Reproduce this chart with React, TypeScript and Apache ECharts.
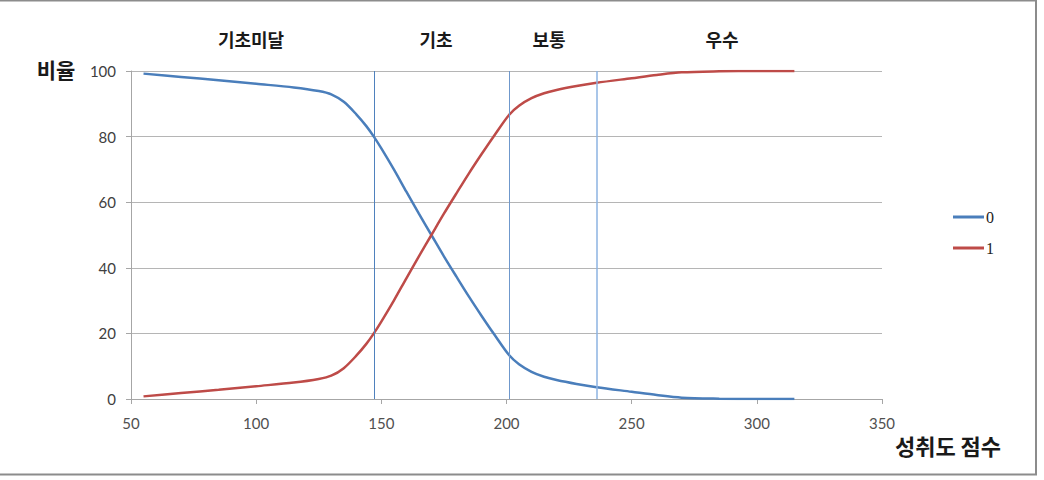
import React, { useEffect, useRef } from "react";
import * as echarts from "echarts";

const scores = [55, 70, 85, 100, 115, 125, 130, 135, 140, 144, 147, 150, 155, 160, 165, 170, 175, 180, 185, 190, 195, 201, 205, 210, 215, 220, 228, 236, 250, 260, 270, 285, 300, 315];
const series0 = [99.2, 98.2, 97.2, 96.1, 95.0, 93.9, 92.9, 90.6, 86.8, 83.2, 80.0, 76.4, 70.0, 63.2, 56.5, 50.0, 43.5, 37.3, 31.2, 25.4, 19.8, 13.4, 10.6, 8.3, 6.8, 5.8, 4.6, 3.6, 2.2, 1.2, 0.4, 0.1, 0, 0];
const series1 = [0.8, 1.8, 2.8, 3.9, 5.0, 6.1, 7.1, 9.4, 13.2, 16.8, 20.0, 23.6, 30.0, 36.8, 43.5, 50.0, 56.5, 62.7, 68.8, 74.6, 80.2, 86.6, 89.4, 91.7, 93.2, 94.2, 95.4, 96.4, 97.8, 98.8, 99.6, 99.9, 100, 100];
const seriesNames = ["0", "1"];
const cutScores = [147, 201, 236];
const levelLabels = ["기초미달", "기초", "보통", "우수"];
const levelLabelX = [251, 436, 549, 722];
const xTicks = { min: 50, max: 350, interval: 50 };
const yTicks = { min: 0, max: 100, interval: 20 };

const KR = '"Noto Sans CJK KR", "Noto Sans", sans-serif';
const LAT = 'Lato, "Open Sans", "Noto Sans", sans-serif';

export default function App() {
  const ref = useRef<HTMLDivElement>(null);
  useEffect(() => {
    if (!ref.current) return;
    const chart = echarts.init(ref.current, null, { renderer: "svg" });
    const toPairs = (vals: number[]) => scores.map((s, i) => [s, vals[i]]);
    chart.setOption({
      animation: false,
      backgroundColor: "#ffffff",
      grid: { left: 131, right: 162, top: 71, bottom: 81, containLabel: false },
      xAxis: {
        type: "value",
        min: xTicks.min,
        max: xTicks.max,
        interval: xTicks.interval,
        axisLine: { show: true, lineStyle: { color: "#a6a6a6", width: 1 } },
        axisTick: { show: true, inside: false, length: 5, lineStyle: { color: "#a6a6a6" } },
        splitLine: { show: false },
        axisLabel: { color: "#505050", fontSize: 15, fontFamily: LAT, margin: 16 },
      },
      yAxis: {
        type: "value",
        min: yTicks.min,
        max: yTicks.max,
        interval: yTicks.interval,
        axisLine: { show: true, lineStyle: { color: "#a6a6a6", width: 1 } },
        axisTick: { show: true, inside: false, length: 5, lineStyle: { color: "#a6a6a6" } },
        splitLine: { show: true, lineStyle: { color: "#b5b5b5", width: 1 } },
        axisLabel: { color: "#404040", fontSize: 15, fontFamily: LAT, margin: 15 },
      },
      legend: {
        orient: "vertical",
        left: 953,
        top: 209,
        padding: 0,
        itemWidth: 31,
        itemHeight: 3,
        itemGap: 15,
        icon: "rect",
        data: seriesNames,
        textStyle: { fontFamily: '"Liberation Serif", "DejaVu Serif", serif', fontSize: 16, lineHeight: 16, color: "#222", padding: [0, 0, 0, -3] },
      },
      series: [
        {
          name: seriesNames[0],
          type: "line",
          data: toPairs(series0),
          smooth: 0.3,
          showSymbol: false,
          lineStyle: { color: "#4a7ebb", width: 2.5 },
          itemStyle: { color: "#4a7ebb" },
          markLine: {
            silent: true,
            symbol: "none",
            label: { show: false },
            data: [
              { xAxis: cutScores[0], lineStyle: { color: "#4f81bd", width: 1, type: "solid" } },
              { xAxis: cutScores[1], lineStyle: { color: "#6f98cc", width: 1, type: "solid" } },
              { xAxis: cutScores[2], lineStyle: { color: "#8db3e2", width: 1.5, type: "solid" } },
            ],
          },
        },
        {
          name: seriesNames[1],
          type: "line",
          data: toPairs(series1),
          smooth: 0.3,
          showSymbol: false,
          lineStyle: { color: "#be4b48", width: 2.5 },
          itemStyle: { color: "#be4b48" },
        },
      ],
      graphic: [
        {
          type: "rect",
          shape: { x: -2, y: 0.5, width: 1038, height: 474 },
          style: { fill: "none", stroke: "#8c8c8c", lineWidth: 2 },
          silent: true,
        },
        ...levelLabels.map((t, i) => ({
          type: "text",
          x: levelLabelX[i],
          y: 39,
          style: { text: t, fontFamily: KR, fontSize: 18, fontWeight: "bold", fill: "#1a1a1a", align: "center", verticalAlign: "middle" },
        })),
        {
          type: "text",
          x: 56,
          y: 69,
          style: { text: "비율", fontFamily: KR, fontSize: 21, fontWeight: "bold", fill: "#1a1a1a", align: "center", verticalAlign: "middle" },
        },
        {
          type: "text",
          x: 948,
          y: 445,
          style: { text: "성취도 점수", fontFamily: KR, fontSize: 22, fontWeight: "bold", fill: "#1a1a1a", align: "center", verticalAlign: "middle" },
        },
      ],
    });
    return () => chart.dispose();
  }, []);
  return (
    <div
      ref={ref}
      style={{ position: "absolute", left: 0, top: 0, width: 1044, height: 480 }}
    />
  );
}
